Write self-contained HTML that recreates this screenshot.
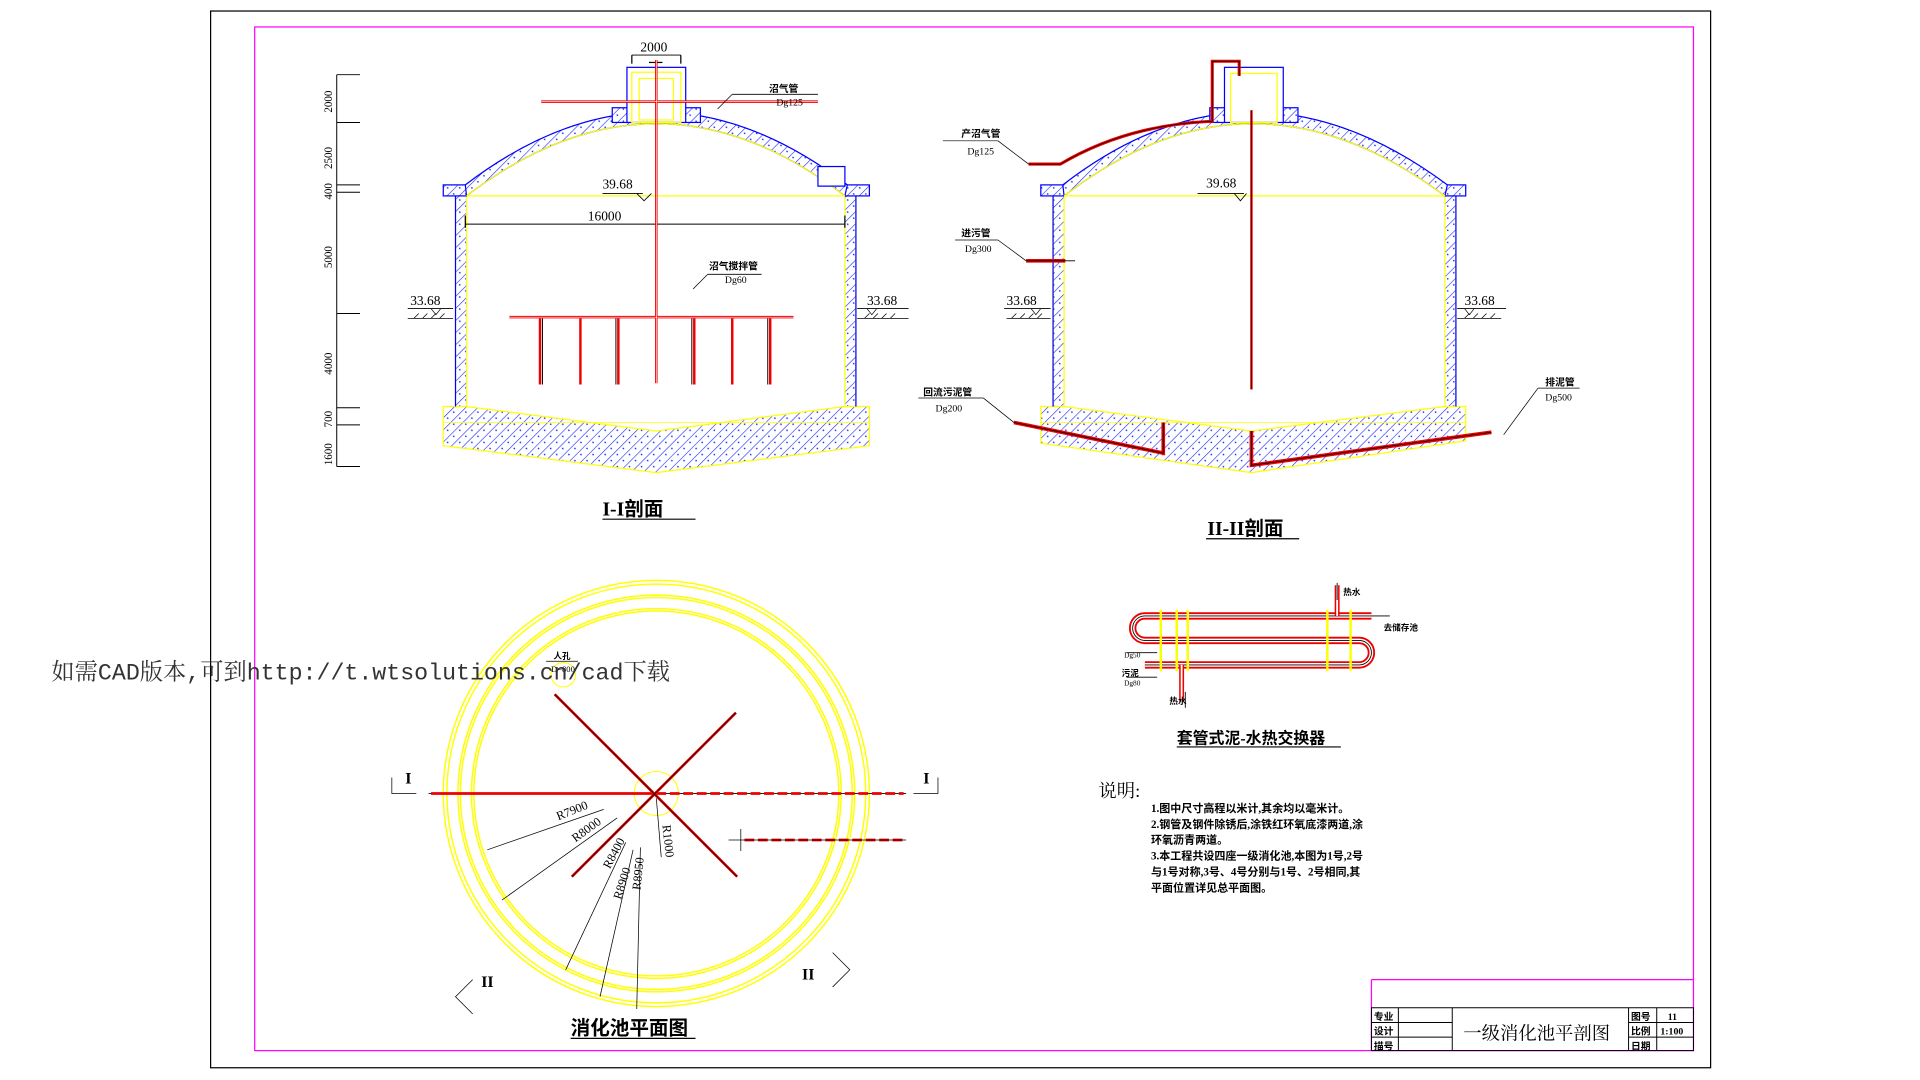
<!DOCTYPE html>
<html><head><meta charset="utf-8"><style>
html,body{margin:0;padding:0;background:#fff;width:1920px;height:1080px;overflow:hidden}
svg{display:block}
text{font-family:"Liberation Serif","Noto Serif CJK SC",serif;fill:#000}
.c{font-family:"Liberation Serif","Noto Sans CJK SC",sans-serif;font-weight:bold}
</style></head><body>
<svg width="1920" height="1080" viewBox="0 0 1568 882" preserveAspectRatio="none" xmlns="http://www.w3.org/2000/svg">
<defs>
<pattern id="h" width="7" height="7" patternUnits="userSpaceOnUse" patternTransform="rotate(45)">
<rect width="7" height="7" fill="#fff"/>
<line x1="0" y1="0" x2="0" y2="7" stroke="#2030ff" stroke-width="1"/>
<circle cx="3" cy="4" r="0.7" fill="#2030ff"/>
</pattern>
</defs>
<rect x="172" y="9" width="1225" height="863" fill="none" stroke="#000" stroke-width="1"/>
<rect x="208" y="22" width="1175" height="836" fill="none" stroke="#ff00ff" stroke-width="1"/>

<line x1="1120" y1="800" x2="1383" y2="800" stroke="#ff00ff"/>
<line x1="1120" y1="800" x2="1120" y2="858" stroke="#ff00ff"/>
<g stroke="#000" fill="none" stroke-width="0.8">
<rect x="1120" y="823" width="263" height="35"/>
<line x1="1142" y1="823" x2="1142" y2="858"/><line x1="1186" y1="823" x2="1186" y2="858"/>
<line x1="1330" y1="823" x2="1330" y2="858"/><line x1="1353" y1="823" x2="1353" y2="858"/>
<line x1="1120" y1="835" x2="1186" y2="835"/><line x1="1120" y1="847" x2="1186" y2="847"/>
<line x1="1330" y1="835" x2="1383" y2="835"/><line x1="1330" y1="847" x2="1383" y2="847"/>
</g>
<g font-size="8"><text x="1122" y="833" class="c">专业</text><text x="1122" y="845" class="c">设计</text><text x="1122" y="857" class="c">描号</text>
<text x="1332" y="833" class="c">图号</text><text x="1332" y="845" class="c">比例</text><text x="1332" y="857" class="c">日期</text>
<text x="1362" y="833" class="c">11</text><text x="1356" y="845" class="c">1:100</text></g>
<text x="1195" y="849" font-size="15">一级消化池平剖图</text>

<g stroke="#000" stroke-width="0.8" fill="none">
<line x1="275" y1="61" x2="275" y2="381"/>
<line x1="275" y1="61" x2="294" y2="61"/><line x1="275" y1="100" x2="294" y2="100"/>
<line x1="275" y1="151" x2="294" y2="151"/><line x1="275" y1="157" x2="294" y2="157"/>
<line x1="275" y1="256" x2="294" y2="256"/><line x1="275" y1="333" x2="294" y2="333"/>
<line x1="275" y1="347" x2="294" y2="347"/><line x1="275" y1="381" x2="294" y2="381"/>
</g>
<g font-size="9">
<text transform="translate(271,92) rotate(-90)">2000</text>
<text transform="translate(271,138) rotate(-90)">2500</text>
<text transform="translate(271,163) rotate(-90)">400</text>
<text transform="translate(271,219) rotate(-90)">5000</text>
<text transform="translate(271,306) rotate(-90)">4000</text>
<text transform="translate(271,349) rotate(-90)">700</text>
<text transform="translate(271,380) rotate(-90)">1600</text>
</g>

<!-- SECTION I-I -->
<g>
<path d="M362,332 L381,332 L536,352 L690,332 L710,332 L710,364 L536,386 L362,364 Z" fill="url(#h)" stroke="#ff0" stroke-width="1"/>
<line x1="362" y1="345" x2="710" y2="345" stroke="#ff0" stroke-width="0.6"/>
<rect x="372" y="160" width="9" height="172" fill="url(#h)" stroke="#ff0"/>
<rect x="690" y="160" width="9" height="172" fill="url(#h)" stroke="#ff0"/>
<line x1="372" y1="160" x2="372" y2="332" stroke="#00f"/><line x1="699" y1="160" x2="699" y2="332" stroke="#00f"/>
<rect x="362" y="151" width="19" height="9" fill="url(#h)" stroke="#00f"/>
<rect x="690" y="151" width="20" height="9" fill="url(#h)" stroke="#00f"/>
<path d="M380,151 Q536,32 692,151 L690,160 Q536,42 381,160 Z" fill="url(#h)" stroke="#00f" stroke-width="1"/>
<path d="M381,160 Q536,42 690,160" fill="none" stroke="#ff0"/>
<rect x="668" y="136" width="22" height="16" fill="#fff" stroke="#00f"/>
<rect x="500" y="88" width="72" height="12" fill="url(#h)" stroke="#00f"/>
<rect x="512" y="55" width="48" height="45" fill="#fff" stroke="#00f"/>
<rect x="516" y="59" width="40" height="41" fill="none" stroke="#ff0"/>
<rect x="522" y="64" width="28" height="34" fill="none" stroke="#ff0"/>
<line x1="381" y1="160" x2="690" y2="160" stroke="#ff0"/>
<line x1="380" y1="183" x2="690" y2="183" stroke="#000" stroke-width="0.8"/>
<line x1="380" y1="176" x2="380" y2="186" stroke="#000"/><line x1="690" y1="176" x2="690" y2="186" stroke="#000"/>
<text x="480" y="180" font-size="11">16000</text>
<line x1="492" y1="158" x2="525" y2="158" stroke="#000" stroke-width="0.7"/>
<path d="M520,158 L526,164 L532,158" fill="none" stroke="#000" stroke-width="0.7"/>
<text x="492" y="154" font-size="11">39.68</text>
<line x1="516" y1="45" x2="516" y2="52" stroke="#000"/><line x1="556" y1="45" x2="556" y2="52" stroke="#000"/>
<line x1="516" y1="45" x2="556" y2="45" stroke="#000" stroke-width="0.7"/>
<text x="523" y="42" font-size="11">2000</text>
<line x1="530" y1="51" x2="541" y2="51" stroke="#000"/>
<g stroke="#e00" stroke-width="2" fill="none">
<line x1="536" y1="49" x2="536" y2="313"/>
<line x1="442" y1="83" x2="668" y2="83"/>
<line x1="416" y1="259" x2="648" y2="259"/>
<line x1="441" y1="260" x2="441" y2="314"/><line x1="474" y1="260" x2="474" y2="314"/><line x1="505" y1="260" x2="505" y2="314"/>
<line x1="567" y1="260" x2="567" y2="314"/><line x1="598" y1="260" x2="598" y2="314"/><line x1="629" y1="260" x2="629" y2="314"/></g>
<g stroke="#fff" stroke-width="0.5"><line x1="536" y1="49" x2="536" y2="313"/><line x1="442" y1="83" x2="668" y2="83"/><line x1="416" y1="259" x2="648" y2="259"/></g>
<g stroke="#000" stroke-width="0.8"><line x1="443" y1="260" x2="443" y2="314"/><line x1="503" y1="260" x2="503" y2="314"/><line x1="565" y1="260" x2="565" y2="314"/><line x1="627" y1="260" x2="627" y2="314"/></g>
<line x1="598" y1="77" x2="668" y2="77" stroke="#000" stroke-width="0.7"/><line x1="598" y1="77" x2="586" y2="89" stroke="#000" stroke-width="0.6"/>
<text x="628" y="75" font-size="8" class="c">沼气管</text><text x="634" y="86" font-size="8">Dg125</text>
<line x1="578" y1="224" x2="622" y2="224" stroke="#000" stroke-width="0.7"/><line x1="578" y1="224" x2="566" y2="236" stroke="#000" stroke-width="0.6"/>
<text x="579" y="220" font-size="8" class="c">沼气搅拌管</text><text x="592" y="231" font-size="8">Dg60</text>
<line x1="333" y1="252" x2="370" y2="252" stroke="#000" stroke-width="0.7"/>
<path d="M333,260 L370,260 M338,260 l4,-4 M345,260 l4,-4 M352,260 l4,-4 M359,260 l4,-4 M352,252 l4,5 l4,-5" stroke="#000" stroke-width="0.6" fill="none"/>
<text x="335" y="249" font-size="11">33.68</text>
<line x1="700" y1="252" x2="742" y2="252" stroke="#000" stroke-width="0.7"/>
<path d="M700,260 L742,260 M706,260 l4,-4 M713,260 l4,-4 M720,260 l4,-4 M727,260 l4,-4 M708,252 l4,5 l4,-5" stroke="#000" stroke-width="0.6" fill="none"/>
<text x="708" y="249" font-size="11">33.68</text>
<text x="492" y="421" font-size="16" class="c">I-I剖面</text>
<line x1="492" y1="424" x2="568" y2="424" stroke="#000"/>
</g>

<!-- SECTION II-II -->
<g>
<path d="M850,332 L869,332 L1022,352 L1180,332 L1197,332 L1197,360 L1022,386 L850,362 Z" fill="url(#h)" stroke="#ff0" stroke-width="1"/>
<line x1="850" y1="345" x2="1197" y2="345" stroke="#ff0" stroke-width="0.6"/>
<rect x="860" y="160" width="9" height="172" fill="url(#h)" stroke="#ff0"/>
<rect x="1180" y="160" width="9" height="172" fill="url(#h)" stroke="#ff0"/>
<line x1="860" y1="160" x2="860" y2="332" stroke="#00f"/><line x1="1189" y1="160" x2="1189" y2="332" stroke="#00f"/>
<rect x="850" y="151" width="19" height="9" fill="url(#h)" stroke="#00f"/>
<rect x="1180" y="151" width="17" height="9" fill="url(#h)" stroke="#00f"/>
<path d="M868,151 Q1022,32 1182,151 L1180,160 Q1022,42 869,160 Z" fill="url(#h)" stroke="#00f"/>
<path d="M869,160 Q1022,42 1180,160" fill="none" stroke="#ff0"/>
<rect x="988" y="88" width="72" height="12" fill="url(#h)" stroke="#00f"/>
<rect x="1000" y="55" width="48" height="45" fill="#fff" stroke="#00f"/>
<rect x="1005" y="60" width="38" height="40" fill="none" stroke="#ff0"/>
<line x1="869" y1="160" x2="1180" y2="160" stroke="#ff0"/>
<line x1="1022" y1="90" x2="1022" y2="318" stroke="#e00" stroke-width="2"/>
<line x1="1022" y1="90" x2="1022" y2="318" stroke="#000" stroke-width="0.5"/>
<path d="M840,134 L866,134 Q920,102 990,99 L990,50 L1012,50 L1012,62" fill="none" stroke="#e00" stroke-width="2.5"/>
<path d="M840,134 L866,134 Q920,102 990,99 L990,50 L1012,50 L1012,62" fill="none" stroke="#000" stroke-width="0.6"/>
<line x1="838" y1="213" x2="870" y2="213" stroke="#e00" stroke-width="3"/><line x1="838" y1="213" x2="878" y2="213" stroke="#000" stroke-width="0.7"/>
<path d="M828,345 L950,370 L950,345" fill="none" stroke="#e00" stroke-width="3"/>
<path d="M828,345 L950,370 L950,345" fill="none" stroke="#000" stroke-width="0.7"/>
<path d="M1022,352 L1022,380 L1218,353" fill="none" stroke="#e00" stroke-width="3"/>
<path d="M1022,352 L1022,380 L1218,353" fill="none" stroke="#000" stroke-width="0.7"/>
<line x1="978" y1="158" x2="1016" y2="158" stroke="#000" stroke-width="0.7"/>
<path d="M1008,158 L1013,164 L1018,158" fill="none" stroke="#000" stroke-width="0.7"/>
<text x="985" y="153" font-size="11">39.68</text>
<line x1="820" y1="252" x2="858" y2="252" stroke="#000" stroke-width="0.7"/>
<path d="M822,260 L858,260 M826,260 l4,-4 M833,260 l4,-4 M840,260 l4,-4 M847,260 l4,-4 M842,252 l4,5 l4,-5" stroke="#000" stroke-width="0.6" fill="none"/>
<text x="822" y="249" font-size="11">33.68</text>
<line x1="1190" y1="252" x2="1230" y2="252" stroke="#000" stroke-width="0.7"/>
<path d="M1190,260 L1226,260 M1196,260 l4,-4 M1203,260 l4,-4 M1210,260 l4,-4 M1217,260 l4,-4 M1196,252 l4,5 l4,-5" stroke="#000" stroke-width="0.6" fill="none"/>
<text x="1196" y="249" font-size="11">33.68</text>
<line x1="770" y1="115" x2="815" y2="115" stroke="#000" stroke-width="0.6"/><line x1="815" y1="115" x2="840" y2="134" stroke="#000" stroke-width="0.6"/>
<text x="785" y="112" font-size="8" class="c">产沼气管</text><text x="790" y="126" font-size="8">Dg125</text>
<line x1="780" y1="196" x2="815" y2="196" stroke="#000" stroke-width="0.6"/><line x1="815" y1="196" x2="838" y2="213" stroke="#000" stroke-width="0.6"/>
<text x="785" y="193" font-size="8" class="c">进污管</text><text x="788" y="206" font-size="8">Dg300</text>
<line x1="750" y1="325" x2="803" y2="325" stroke="#000" stroke-width="0.6"/><line x1="803" y1="325" x2="828" y2="345" stroke="#000" stroke-width="0.6"/>
<text x="754" y="323" font-size="8" class="c">回流污泥管</text><text x="764" y="336" font-size="8">Dg200</text>
<line x1="1256" y1="317" x2="1290" y2="317" stroke="#000" stroke-width="0.6"/><line x1="1256" y1="317" x2="1228" y2="355" stroke="#000" stroke-width="0.6"/>
<text x="1262" y="315" font-size="8" class="c">排泥管</text><text x="1262" y="327" font-size="8">Dg500</text>
<text x="986" y="437" font-size="16" class="c">II-II剖面</text>
<line x1="985" y1="440" x2="1061" y2="440" stroke="#000"/>
</g>

<!-- PLAN -->
<g fill="none" stroke="#ff0" stroke-width="1.2">
<circle cx="536" cy="648" r="174"/><circle cx="536" cy="648" r="171"/>
<circle cx="536" cy="648" r="162"/><circle cx="536" cy="648" r="160"/>
<circle cx="536" cy="648" r="151"/><circle cx="536" cy="648" r="149"/>
<circle cx="536" cy="648" r="18" stroke-width="0.8"/>
<circle cx="460" cy="551" r="10" stroke-width="0.8"/>
</g>
<line x1="350" y1="648" x2="740" y2="648" stroke="#000" stroke-width="0.7"/>
<g stroke="#e00" stroke-width="2.2" fill="none">
<line x1="352" y1="648" x2="536" y2="648"/><line x1="536" y1="648" x2="738" y2="648" stroke-dasharray="8,3"/>
<line x1="453" y1="567" x2="602" y2="716"/><line x1="601" y1="582" x2="467" y2="716"/>
<line x1="608" y1="686" x2="738" y2="686" stroke-dasharray="8,3"/>
</g>
<g stroke="#000" stroke-width="0.6" fill="none">
<line x1="453" y1="567" x2="602" y2="716"/><line x1="601" y1="582" x2="467" y2="716"/><line x1="608" y1="686" x2="740" y2="686"/>
<line x1="595" y1="686" x2="608" y2="686"/><line x1="605" y1="677" x2="605" y2="695"/>
<line x1="398" y1="694" x2="493" y2="661"/><line x1="410" y1="735" x2="504" y2="668"/>
<line x1="462" y1="792" x2="511" y2="688"/><line x1="490" y1="814" x2="517" y2="694"/>
<line x1="520" y1="824" x2="523" y2="692"/><line x1="536" y1="652" x2="540" y2="700"/>
<path d="M320,635 v13 h20 M766,635 v13 h-20 M386,800 l-14,14 l14,14 M680,778 l14,14 l-14,14"/>
<line x1="446" y1="540" x2="472" y2="540"/>
</g>
<g font-size="10">
<text transform="translate(456,670) rotate(-22)">R7900</text>
<text transform="translate(470,688) rotate(-36)">R8000</text>
<text transform="translate(498,710) rotate(-62)">R8400</text>
<text transform="translate(507,735) rotate(-72)">R8900</text>
<text transform="translate(523,727) rotate(-84)">R8950</text>
<text transform="translate(541,674) rotate(84)">R1000</text>
</g>
<text x="452" y="538" font-size="7" class="c">人孔</text><text x="450" y="549" font-size="7">D=800</text>
<text x="331" y="640" font-size="13" class="c">I</text><text x="754" y="640" font-size="13" class="c">I</text>
<text x="393" y="806" font-size="13" class="c">II</text><text x="655" y="800" font-size="13" class="c">II</text>
<text x="466" y="845" font-size="16" class="c">消化池平面图</text>
<line x1="466" y1="848" x2="568" y2="848" stroke="#000"/>

<!-- heat exchanger -->
<g fill="none">
<path d="M1120,503 L935,503 A10,10 0 0 0 935,523 L1110,523 A10,10 0 0 1 1110,543 L935,543" stroke="#e00" stroke-width="6"/>
<path d="M1120,503 L935,503 A10,10 0 0 0 935,523 L1110,523 A10,10 0 0 1 1110,543 L935,543" stroke="#fff" stroke-width="3"/>
<path d="M1120,503 L935,503 A10,10 0 0 0 935,523 L1110,523 A10,10 0 0 1 1110,543 L935,543" stroke="#000" stroke-width="0.7"/>
<path d="M1092,503 V478 M965,543 V573" stroke="#e00" stroke-width="4"/>
<path d="M1092,503 V478 M965,543 V573" stroke="#fff" stroke-width="1.5"/>
<path d="M1092,490 V476 M968,565 V578 M1120,503 H1135 M945,533 h-25 M945,553 h-25" stroke="#000" stroke-width="0.7"/>
<g stroke="#ff0" stroke-width="2"><line x1="948" y1="498" x2="948" y2="548"/><line x1="961" y1="498" x2="961" y2="548"/><line x1="970" y1="498" x2="970" y2="548"/><line x1="1084" y1="498" x2="1084" y2="548"/><line x1="1103" y1="498" x2="1103" y2="548"/></g>
</g>
<text x="1097" y="486" font-size="7" class="c">热水</text><text x="1130" y="515" font-size="7" class="c">去储存池</text>
<text x="918" y="537" font-size="6">Dg50</text><text x="916" y="552" font-size="7" class="c">污泥</text><text x="918" y="560" font-size="6">Dg80</text>
<text x="955" y="575" font-size="7" class="c">热水</text>
<text x="961" y="607" font-size="13" class="c">套管式泥-水热交换器</text>
<line x1="961" y1="610" x2="1095" y2="610" stroke="#000"/>

<text x="897" y="651" font-size="15">说明:</text>
<g font-size="9">
<text x="940" y="663" class="c">1.图中尺寸高程以米计,其余均以毫米计。</text>
<text x="940" y="676" class="c">2.钢管及钢件除锈后,涂铁红环氧底漆两道,涂</text>
<text x="940" y="689" class="c">环氧沥青两道。</text>
<text x="940" y="702" class="c">3.本工程共设四座一级消化池,本图为1号,2号</text>
<text x="940" y="715" class="c">与1号对称,3号、4号分别与1号、2号相同,其</text>
<text x="940" y="728" class="c">平面位置详见总平面图。</text>
</g>

<text x="42" y="555" font-size="19" style="font-family:'Liberation Mono','Noto Serif CJK SC',monospace;fill:#333">如需CAD版本,可到http://t.wtsolutions.cn/cad下载</text>
</svg>
</body></html>
